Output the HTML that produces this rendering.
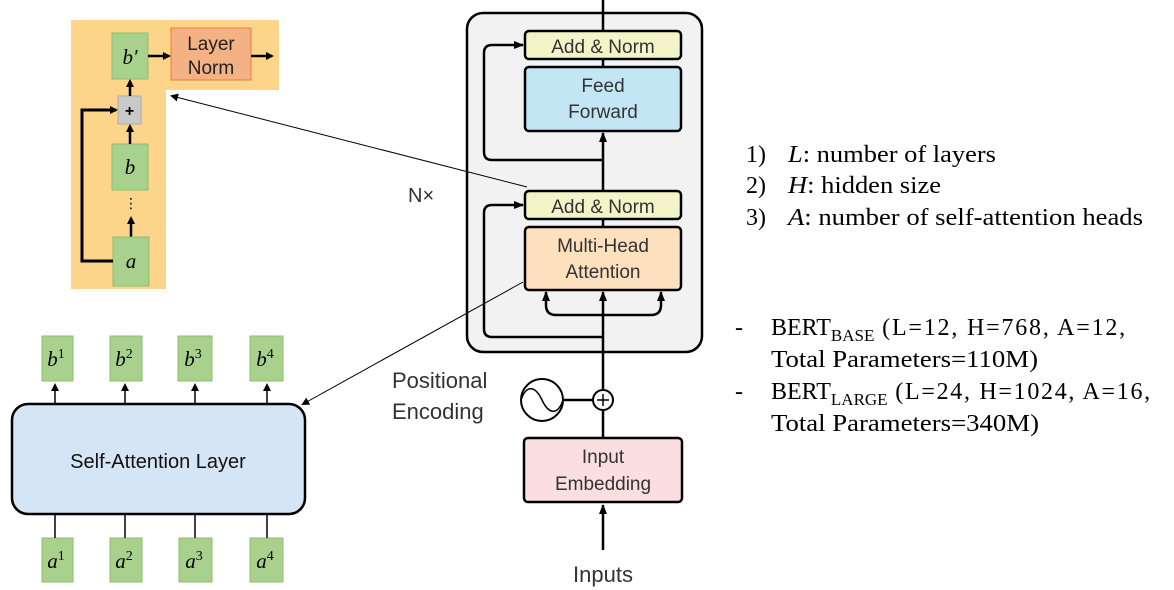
<!DOCTYPE html>
<html><head><meta charset="utf-8"><style>
html,body{margin:0;padding:0;background:#fff;width:1174px;height:590px;overflow:hidden}
</style></head><body>
<svg width="1174" height="590" viewBox="0 0 1174 590" xmlns="http://www.w3.org/2000/svg">
<defs>
<marker id="ah" markerWidth="8" markerHeight="8" refX="6" refY="4" orient="auto" markerUnits="userSpaceOnUse"><path d="M0,0 L8,4 L0,8 z" fill="#000"/></marker>
<marker id="as" markerWidth="10" markerHeight="8" refX="9" refY="4" orient="auto" markerUnits="userSpaceOnUse"><path d="M0,0 L10,4 L0,8 z" fill="#000"/></marker>
</defs>
<g font-family="Liberation Sans, DejaVu Sans, sans-serif">
<rect x="71" y="20" width="95" height="269" fill="#fdd58a"/>
<rect x="97" y="20" width="182" height="70" fill="#fdd58a"/>
<rect x="112" y="33" width="36" height="46" fill="#a9d18e" stroke="#8cbf6e"/>
<text x="130" y="64" font-family="Liberation Serif, serif" font-style="italic" font-size="21" text-anchor="middle">b′</text>
<rect x="171" y="28" width="80" height="52" fill="#f4b183" stroke="#ed7d31" stroke-width="1"/>
<text x="211" y="50" font-size="19" text-anchor="middle" fill="#222">Layer</text>
<text x="211" y="74" font-size="19" text-anchor="middle" fill="#222">Norm</text>
<line x1="148" y1="56" x2="169" y2="56" stroke="#000" stroke-width="2.5" marker-end="url(#ah)"/>
<line x1="251" y1="56" x2="272" y2="56" stroke="#000" stroke-width="2.5" marker-end="url(#ah)"/>
<rect x="118" y="96" width="23" height="28" fill="#c9c9c9" stroke="#aaa"/>
<text x="129.5" y="116" font-size="16" font-weight="bold" text-anchor="middle">+</text>
<line x1="130" y1="96" x2="130" y2="81" stroke="#000" stroke-width="2.5" marker-end="url(#ah)"/>
<rect x="112" y="144" width="36" height="46" fill="#a9d18e" stroke="#8cbf6e"/>
<text x="130" y="174" font-family="Liberation Serif, serif" font-style="italic" font-size="21" text-anchor="middle">b</text>
<line x1="130" y1="144" x2="130" y2="126" stroke="#000" stroke-width="2.5" marker-end="url(#ah)"/>
<text x="131" y="208" font-size="14" text-anchor="middle">⋮</text>
<line x1="131" y1="237" x2="131" y2="218" stroke="#000" stroke-width="2.5" marker-end="url(#ah)"/>
<rect x="113" y="237" width="36" height="49" fill="#a9d18e" stroke="#8cbf6e"/>
<text x="131" y="268" font-family="Liberation Serif, serif" font-style="italic" font-size="21" text-anchor="middle">a</text>
<polyline points="113,261 82,261 82,110 116,110" fill="none" stroke="#000" stroke-width="3" marker-end="url(#ah)"/>

<rect x="467" y="13" width="235" height="339" rx="16" fill="#f2f2f2" stroke="#000" stroke-width="2.5"/>
<line x1="603" y1="0" x2="603" y2="31" stroke="#000" stroke-width="2.5"/>
<line x1="603" y1="59" x2="603" y2="67" stroke="#000" stroke-width="2.5"/>
<rect x="525" y="31" width="156" height="28" rx="4" fill="#f3f5c8" stroke="#000" stroke-width="2.5"/>
<text x="603" y="53" font-size="19" text-anchor="middle" fill="#333">Add &amp; Norm</text>
<rect x="525" y="67" width="156" height="64" rx="4" fill="#c3e6f5" stroke="#000" stroke-width="2.5"/>
<text x="603" y="92" font-size="19" text-anchor="middle" fill="#333">Feed</text>
<text x="603" y="118" font-size="19" text-anchor="middle" fill="#333">Forward</text>
<line x1="603" y1="191" x2="603" y2="133" stroke="#000" stroke-width="2.5" marker-end="url(#as)"/>
<path d="M603,160 L492,160 Q484,160 484,152 L484,53 Q484,45 492,45 L523,45" fill="none" stroke="#000" stroke-width="2.5" marker-end="url(#as)"/>
<rect x="525" y="191" width="156" height="28" rx="4" fill="#f3f5c8" stroke="#000" stroke-width="2.5"/>
<text x="603" y="213" font-size="19" text-anchor="middle" fill="#333">Add &amp; Norm</text>
<line x1="603" y1="219" x2="603" y2="227" stroke="#000" stroke-width="2.5"/>
<rect x="525" y="227" width="156" height="63" rx="4" fill="#fde0bd" stroke="#000" stroke-width="2.5"/>
<text x="603" y="252" font-size="19" text-anchor="middle" fill="#333">Multi-Head</text>
<text x="603" y="278" font-size="19" text-anchor="middle" fill="#333">Attention</text>
<line x1="603" y1="440" x2="603" y2="292" stroke="#000" stroke-width="2.5" marker-end="url(#as)"/>
<path d="M556,315 Q546,315 546,305 L546,292" fill="none" stroke="#000" stroke-width="2.5" marker-end="url(#as)"/>
<path d="M556,315 L651,315 Q661,315 661,305 L661,292" fill="none" stroke="#000" stroke-width="2.5" marker-end="url(#as)"/>
<path d="M603,337 L492,337 Q484,337 484,329 L484,213 Q484,205 492,205 L523,205" fill="none" stroke="#000" stroke-width="2.5" marker-end="url(#as)"/>
<text x="408" y="202" font-size="20" fill="#333">N×</text>

<line x1="527" y1="187" x2="172" y2="96" stroke="#000" stroke-width="1" marker-end="url(#ah)"/>
<line x1="523" y1="282" x2="303" y2="404" stroke="#000" stroke-width="1" marker-end="url(#ah)"/>

<text x="392" y="388" font-size="22" fill="#333">Positional</text>
<text x="392" y="419" font-size="22" fill="#333">Encoding</text>
<circle cx="542" cy="400" r="21" fill="#fff" stroke="#000" stroke-width="2"/>
<path d="M521,400 C526,385 535,385 542,400 C549,415 558,415 563,400" fill="none" stroke="#000" stroke-width="1.5"/>
<line x1="563" y1="400" x2="593" y2="400" stroke="#000" stroke-width="2.5"/>
<circle cx="603" cy="400" r="10" fill="#fff" stroke="#000" stroke-width="2"/>
<line x1="597" y1="400" x2="609" y2="400" stroke="#000" stroke-width="1.5"/>
<line x1="603" y1="394" x2="603" y2="406" stroke="#000" stroke-width="1.5"/>
<rect x="524" y="438" width="158" height="64" rx="4" fill="#fbdfe0" stroke="#000" stroke-width="2.5"/>
<text x="603" y="463" font-size="19" text-anchor="middle" fill="#333">Input</text>
<text x="603" y="490" font-size="19" text-anchor="middle" fill="#333">Embedding</text>
<line x1="603" y1="550" x2="603" y2="505" stroke="#000" stroke-width="2.5" marker-end="url(#as)"/>
<text x="603" y="582" font-size="22" text-anchor="middle" fill="#333">Inputs</text>

<rect x="12" y="404" width="293" height="110" rx="16" fill="#d5e5f6" stroke="#000" stroke-width="2.5"/>
<text x="158" y="468" font-size="20" text-anchor="middle" fill="#111">Self-Attention Layer</text>
<g font-family="Liberation Serif, serif" font-style="italic" font-size="21">
<rect x="42" y="336" width="31" height="45" fill="#a9d18e" stroke="#8cbf6e"/><text x="56" y="366" text-anchor="middle">b<tspan font-style="normal" font-size="14" dy="-8">1</tspan></text>
<rect x="110" y="336" width="32" height="45" fill="#a9d18e" stroke="#8cbf6e"/><text x="124" y="366" text-anchor="middle">b<tspan font-style="normal" font-size="14" dy="-8">2</tspan></text>
<rect x="178" y="336" width="34" height="45" fill="#a9d18e" stroke="#8cbf6e"/><text x="193" y="366" text-anchor="middle">b<tspan font-style="normal" font-size="14" dy="-8">3</tspan></text>
<rect x="250" y="336" width="33" height="45" fill="#a9d18e" stroke="#8cbf6e"/><text x="265" y="366" text-anchor="middle">b<tspan font-style="normal" font-size="14" dy="-8">4</tspan></text>
<rect x="42" y="538" width="31" height="44" fill="#a9d18e" stroke="#8cbf6e"/><text x="56" y="568" text-anchor="middle">a<tspan font-style="normal" font-size="14" dy="-8">1</tspan></text>
<rect x="110" y="538" width="32" height="44" fill="#a9d18e" stroke="#8cbf6e"/><text x="124" y="568" text-anchor="middle">a<tspan font-style="normal" font-size="14" dy="-8">2</tspan></text>
<rect x="179" y="538" width="33" height="44" fill="#a9d18e" stroke="#8cbf6e"/><text x="194" y="568" text-anchor="middle">a<tspan font-style="normal" font-size="14" dy="-8">3</tspan></text>
<rect x="250" y="538" width="33" height="44" fill="#a9d18e" stroke="#8cbf6e"/><text x="265" y="568" text-anchor="middle">a<tspan font-style="normal" font-size="14" dy="-8">4</tspan></text>
</g>
<g stroke="#000" stroke-width="1.5">
<line x1="55" y1="404" x2="55" y2="385" marker-end="url(#ah)"/>
<line x1="125" y1="404" x2="125" y2="385" marker-end="url(#ah)"/>
<line x1="195" y1="404" x2="195" y2="385" marker-end="url(#ah)"/>
<line x1="267" y1="404" x2="267" y2="385" marker-end="url(#ah)"/>
<line x1="55" y1="514" x2="55" y2="538"/>
<line x1="125" y1="514" x2="125" y2="538"/>
<line x1="195" y1="514" x2="195" y2="538"/>
<line x1="267" y1="514" x2="267" y2="538"/>
</g>
</g>

<g font-family="Liberation Serif, serif" font-size="24" fill="#000">
<text x="746" y="162">1)</text><text x="788" y="162" textLength="208" lengthAdjust="spacingAndGlyphs"><tspan font-style="italic">L</tspan>: number of layers</text>
<text x="746" y="193">2)</text><text x="788" y="193" textLength="153" lengthAdjust="spacingAndGlyphs"><tspan font-style="italic">H</tspan>: hidden size</text>
<text x="746" y="225">3)</text><text x="788" y="225" textLength="355" lengthAdjust="spacingAndGlyphs"><tspan font-style="italic">A</tspan>: number of self-attention heads</text>
<text x="735" y="335">-</text><text x="771" y="335">BERT<tspan font-size="17" dy="6">BASE</tspan><tspan dy="-6" letter-spacing="1.8"> (L=12, H=768, A=12,</tspan></text>
<text x="771" y="367" textLength="267" lengthAdjust="spacingAndGlyphs">Total Parameters=110M)</text>
<text x="735" y="399">-</text><text x="771" y="399">BERT<tspan font-size="17" dy="6">LARGE</tspan><tspan dy="-6" letter-spacing="1.7"> (L=24, H=1024, A=16,</tspan></text>
<text x="771" y="431" textLength="268" lengthAdjust="spacingAndGlyphs">Total Parameters=340M)</text>
</g>
</svg>
</body></html>
